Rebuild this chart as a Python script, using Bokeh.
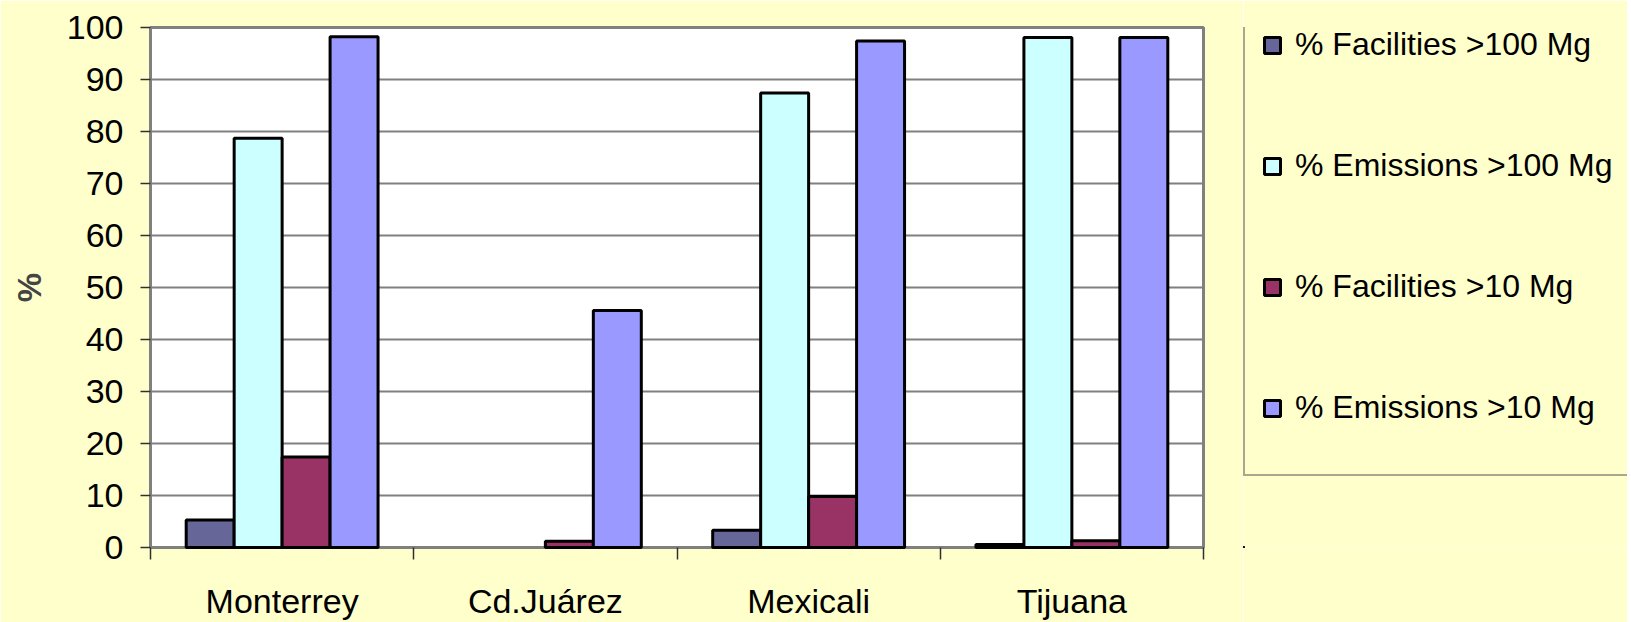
import numpy as np
from bokeh.plotting import figure
from bokeh.models import (ColumnDataSource, Range1d, FixedTicker, Legend, LegendItem, Div)
from bokeh.layouts import row
from bokeh.embed import file_html
from bokeh.resources import INLINE

cities = ["Monterrey", "Cd.Juárez", "Mexicali", "Tijuana"]
series_names = ["% Facilities >100 Mg", "% Emissions >100 Mg",
                "% Facilities >10 Mg", "% Emissions >10 Mg"]
fac_100 = [5.3, float("nan"), 3.3, 0.6]
em_100 = [78.7, float("nan"), 87.4, 98.1]
fac_10 = [17.4, 1.2, 9.8, 1.3]
em_10 = [98.2, 45.6, 97.4, 98.1]
y_ticks = [0, 10, 20, 30, 40, 50, 60, 70, 80, 90, 100]

colors = ["#666699", "#CCFFFF", "#993366", "#9999FF"]
series = [fac_100, em_100, fac_10, em_10]

FONT = "Liberation Sans"
BG = "#FFFFCC"

p = figure(width=1243, height=622, output_backend="svg", toolbar_location=None,
           x_range=Range1d(0, 4), y_range=Range1d(0, 100),
           min_border_left=150, min_border_right=40, min_border_top=27,
           min_border_bottom=75)
p.border_fill_color = BG
p.background_fill_color = "white"
p.outline_line_color = "#808080"
p.outline_line_width = 3

bw = 0.1822
idx = np.arange(len(cities)) + 0.5
sources = []
for j, (vals, col) in enumerate(zip(series, colors)):
    src = ColumnDataSource(dict(x=idx + (j - 1.5) * bw, top=vals))
    sources.append(src)
    r = p.vbar(x="x", top="top", width=bw, bottom=0, source=src,
               fill_color=col, line_color="black", line_width=3)
    r.level = "annotation"

# y axis
p.yaxis.ticker = FixedTicker(ticks=y_ticks)
p.yaxis.axis_label = "%"
p.yaxis.axis_label_text_font = FONT
p.yaxis.axis_label_text_font_style = "bold"
p.yaxis.axis_label_text_font_size = "33px"
p.yaxis.axis_label_standoff = 16
p.yaxis.major_label_text_font = FONT
p.yaxis.major_label_text_font_size = "34px"
p.yaxis.major_label_text_color = "black"
p.yaxis.major_label_standoff = 17
p.yaxis.major_tick_in = 0
p.yaxis.major_tick_out = 10
p.yaxis.major_tick_line_color = "#303030"
p.yaxis.major_tick_line_width = 1.5
p.yaxis.minor_tick_line_color = None
p.yaxis.axis_line_color = "#808080"
p.yaxis.axis_line_width = 2

# x axis
p.xaxis.ticker = FixedTicker(ticks=list(idx), minor_ticks=[0, 1, 2, 3, 4])
p.xaxis.major_label_overrides = {float(x): c for x, c in zip(idx, cities)}
p.xaxis.major_label_text_font = FONT
p.xaxis.major_label_text_font_size = "34px"
p.xaxis.major_label_text_color = "black"
p.xaxis.major_label_standoff = 22
p.xaxis.major_tick_in = 0
p.xaxis.major_tick_out = 12
p.xaxis.major_tick_line_color = None
p.xaxis.minor_tick_in = 0
p.xaxis.minor_tick_out = 12
p.xaxis.minor_tick_line_color = "#303030"
p.xaxis.minor_tick_line_width = 1.5
p.xaxis.axis_line_color = "#808080"
p.xaxis.axis_line_width = 2

p.xgrid.grid_line_color = None
p.ygrid.grid_line_color = "#808080"
p.ygrid.grid_line_width = 2

# legend panel (separate figure; same sources, drawn out of its visible range)
lg = figure(width=384, height=622, output_backend="svg", toolbar_location=None,
            x_axis_type=None, y_axis_type=None,
            x_range=Range1d(10, 11), y_range=Range1d(200, 201),
            min_border=0)
lg.border_fill_color = BG
lg.background_fill_color = BG
lg.outline_line_color = None
lg.xgrid.grid_line_color = None
lg.ygrid.grid_line_color = None
items = []
for name, col, src in zip(series_names, colors, sources):
    rr = lg.vbar(x="x", top="top", width=bw, bottom=0, source=src,
                 fill_color=col, line_color="black", line_width=3)
    items.append(LegendItem(label=name, renderers=[rr]))

legend = Legend(items=items, location=(0, 71), orientation="vertical",
                padding=17, margin=0, spacing=22,
                glyph_width=20, glyph_height=20, label_height=99, label_width=300,
                label_standoff=13, label_text_font=FONT, label_text_font_size="32px",
                label_text_color="black",
                border_line_color="#505050", border_line_width=2,
                background_fill_color=BG, background_fill_alpha=1)
lg.add_layout(legend, "center")

strip = Div(width=4, height=622, styles={"background-color": "#000080"})
layout = row(p, lg, strip, spacing=0)

open("out.html", "w").write(file_html(layout, INLINE))
